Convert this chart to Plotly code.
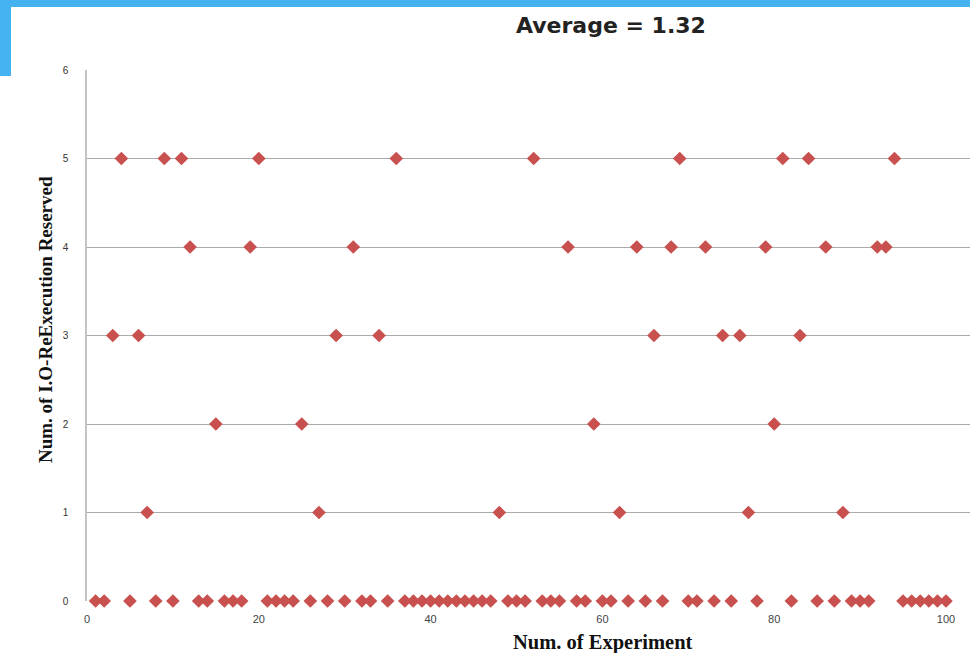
import plotly.graph_objects as go

experiments = list(range(1, 101))
reexecutions = [
    0, 0, 3, 5, 0, 3, 1, 0, 5, 0,
    5, 4, 0, 0, 2, 0, 0, 0, 4, 5,
    0, 0, 0, 0, 2, 0, 1, 0, 3, 0,
    4, 0, 0, 3, 0, 5, 0, 0, 0, 0,
    0, 0, 0, 0, 0, 0, 0, 1, 0, 0,
    0, 5, 0, 0, 0, 4, 0, 0, 2, 0,
    0, 1, 0, 4, 0, 3, 0, 4, 5, 0,
    0, 4, 0, 3, 0, 3, 1, 0, 4, 2,
    5, 0, 3, 5, 0, 4, 0, 1, 0, 0,
    0, 4, 4, 5, 0, 0, 0, 0, 0, 0,
]
x_ticks = [0, 20, 40, 60, 80, 100]
y_ticks = [0, 1, 2, 3, 4, 5, 6]
title_text = "Average = 1.32"
x_title = "Num. of Experiment"
y_title = "Num. of I.O-ReExecution Reserved"

W, H = 970, 653
L, R, T, B = 87, 0, 70, 52
pw, ph = W - L - R, H - T - B

def px_x(p):
    return (p - L) / pw

def px_y(p):
    return (H - B - p) / ph

fig = go.Figure()
fig.add_trace(go.Scatter(
    x=experiments, y=reexecutions, mode="markers",
    marker=dict(symbol="diamond", size=10.5, color="#C8504E", line=dict(width=0)),
    cliponaxis=False, hoverinfo="x+y", showlegend=False,
))

fig.update_layout(
    width=W, height=H,
    margin=dict(l=L, r=R, t=T, b=B),
    paper_bgcolor="white", plot_bgcolor="white",
    xaxis=dict(
        range=[0, (W - L - R) / 8.59], tickvals=x_ticks, showgrid=False,
        zeroline=False, showline=False, ticks="",
        tickfont=dict(family="Liberation Sans, Arial", size=11, color="#444"),
        ticklabelstandoff=10,
    ),
    yaxis=dict(
        range=[0, 6], tickvals=y_ticks, showgrid=True, gridcolor="#ABABAB",
        gridwidth=1, zeroline=False, showline=True, linecolor="#C4C4C4",
        linewidth=1.5, ticks="",
        tickfont=dict(family="Liberation Sans, Arial", size=10, color="#333"),
        ticklabelstandoff=15,
    ),
    shapes=[
        dict(type="rect", xref="paper", yref="paper",
             x0=px_x(0), x1=px_x(W), y0=px_y(7), y1=px_y(0),
             fillcolor="#45B3EF", line=dict(width=0), layer="above"),
        dict(type="rect", xref="paper", yref="paper",
             x0=px_x(0), x1=px_x(11), y0=px_y(76), y1=px_y(0),
             fillcolor="#45B3EF", line=dict(width=0), layer="above"),
    ],
    annotations=[
        dict(text="<b>" + title_text + "</b>", xref="paper", yref="paper",
             x=px_x(611), y=px_y(25), showarrow=False, xanchor="center", yanchor="middle",
             font=dict(family="DejaVu Sans, sans-serif", size=22, color="#222")),
        dict(text="<b>" + x_title + "</b>", xref="paper", yref="paper",
             x=px_x(603), y=px_y(642), showarrow=False, xanchor="center", yanchor="middle",
             font=dict(family="Liberation Serif, Times New Roman, serif", size=20.5, color="#111")),
        dict(text="<b>" + y_title + "</b>", xref="paper", yref="paper",
             x=px_x(45), y=px_y(320), showarrow=False, xanchor="center", yanchor="middle",
             textangle=-90,
             font=dict(family="Liberation Serif, Times New Roman, serif", size=19, color="#111")),
    ],
)

fig.write_html(
    "out.html",
    config={"displayModeBar": False},
    post_script="document.body.style.margin='0';document.body.style.overflow='hidden';",
)
